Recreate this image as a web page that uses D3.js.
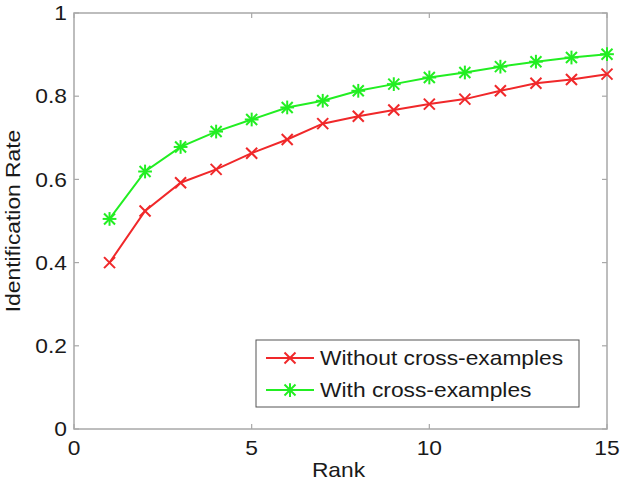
<!DOCTYPE html>
<html>
<head>
<meta charset="utf-8">
<script src="https://cdn.jsdelivr.net/npm/d3@7"></script>
<style>
  body { margin: 0; background: #fff; }
  svg text { font-family: "Liberation Sans", Arial, sans-serif; fill: #1a1a1a; }
</style>
</head>
<body>
<svg id="chart"></svg>
<script>
// identification rate vs rank

/*  DATA  */
const ranks = [1,2,3,4,5,6,7,8,9,10,11,12,13,14,15];
const withoutCross = [0.40,0.524,0.592,0.624,0.663,0.696,0.734,0.752,0.767,0.781,0.793,0.813,0.831,0.840,0.853];
const withCross    = [0.505,0.619,0.678,0.715,0.744,0.773,0.789,0.813,0.829,0.845,0.857,0.871,0.883,0.893,0.901];
const xTicks = [0,5,10,15];
const yTicks = [0,0.2,0.4,0.6,0.8,1];
const seriesNames = ['Without cross-examples','With cross-examples'];

/*  LAYOUT  */
const width = 627, height = 482;
const margin = {left: 74, right: 20, top: 13, bottom: 53};
const sx = 1.14; // the figure looks stretched sideways

const svg = d3.select('#chart')
    .attr('width', width)
    .attr('height', height);

const x = d3.scaleLinear().domain([0,15]).range([margin.left, width - margin.right]);
const y = d3.scaleLinear().domain([0,1]).range([height - margin.bottom, margin.top]);

const series = [
    {name: seriesNames[0], values: withoutCross, color: '#f0282a', marker: 'x'},
    {name: seriesNames[1], values: withCross, color: '#22ee22', marker: 'star'}
];

/*  AXES BOX  */
const boxColor = '#a8a8a8';
svg.append('rect')
    .attr('x', x(0)).attr('y', y(1))
    .attr('width', x(15) - x(0)).attr('height', y(0) - y(1))
    .attr('fill', 'none').attr('stroke', boxColor).attr('stroke-width', 1.5);

// inward ticks on every side
const tickLen = 5;
const tickG = svg.append('g').attr('stroke', boxColor).attr('stroke-width', 1.2);
xTicks.forEach(t => {
    tickG.append('line').attr('x1', x(t)).attr('x2', x(t)).attr('y1', y(0)).attr('y2', y(0) - tickLen);
    tickG.append('line').attr('x1', x(t)).attr('x2', x(t)).attr('y1', y(1)).attr('y2', y(1) + tickLen);
});
yTicks.forEach(t => {
    tickG.append('line').attr('x1', x(0)).attr('x2', x(0) + tickLen).attr('y1', y(t)).attr('y2', y(t));
    tickG.append('line').attr('x1', x(15)).attr('x2', x(15) - tickLen).attr('y1', y(t)).attr('y2', y(t));
});

// tick labels
const fontSize = 20;
xTicks.forEach(t => {
    svg.append('g').attr('transform', `translate(${x(t)},${y(0) + 26})`)
        .append('text')
        .attr('text-anchor', 'middle')
        .attr('font-size', fontSize)
        .attr('transform', `scale(${sx},1)`)
        .text(d3.format('~g')(t));
});
yTicks.forEach(t => {
    svg.append('g').attr('transform', `translate(${x(0) - 7},${y(t)})`)
        .append('text')
        .attr('text-anchor', 'end')
        .attr('dy', '0.36em')
        .attr('font-size', fontSize)
        .attr('transform', `scale(${sx},1)`)
        .text(d3.format('~g')(t));
});

// axis titles
svg.append('g').attr('transform', `translate(${(x(0) + x(15)) / 2 - 2},${height - 5})`)
    .append('text')
    .attr('text-anchor', 'middle')
    .attr('font-size', fontSize)
    .attr('transform', `scale(${sx},1)`)
    .text('Rank');

svg.append('g').attr('transform', `translate(20,${(y(0) + y(1)) / 2}) rotate(-90)`)
    .append('text')
    .attr('text-anchor', 'middle')
    .attr('font-size', fontSize)
    .attr('transform', `scale(${sx},1)`)
    .text('Identification Rate');

/*  MARKERS  */
function drawMarker(g, cx, cy, type, color) {
    const r = 5.5;
    let segs = [[-r,-r,r,r],[-r,r,r,-r]];
    if (type === 'star') {
        segs = [[-r,-r,r,r],[-r,r,r,-r],[-r*1.25,0,r*1.25,0],[0,-r*1.25,0,r*1.25]];
    }
    segs.forEach(s => {
        g.append('line')
            .attr('x1', cx + s[0]).attr('y1', cy + s[1])
            .attr('x2', cx + s[2]).attr('y2', cy + s[3])
            .attr('stroke', color).attr('stroke-width', 2);
    });
}

/*  LINES  */
const line = d3.line()
    .x((d, i) => x(ranks[i]))
    .y(d => y(d));

series.forEach(s => {
    svg.append('path')
        .datum(s.values)
        .attr('fill', 'none')
        .attr('stroke', s.color)
        .attr('stroke-width', 2)
        .attr('d', line);
    const mg = svg.append('g');
    s.values.forEach((v, i) => drawMarker(mg, x(ranks[i]), y(v), s.marker, s.color));
});

/*  LEGEND  */
const legend = svg.append('g');
legend.append('rect')
    .attr('x', 256).attr('y', 340)
    .attr('width', 323).attr('height', 67)
    .attr('fill', '#fff').attr('stroke', '#555').attr('stroke-width', 1);

series.forEach((s, i) => {
    const ly = 358 + i * 32;
    legend.append('line')
        .attr('x1', 266).attr('x2', 314).attr('y1', ly).attr('y2', ly)
        .attr('stroke', s.color).attr('stroke-width', 2);
    drawMarker(legend, 290, ly, s.marker, s.color);
    legend.append('g').attr('transform', `translate(320,${ly})`)
        .append('text')
        .attr('dy', '0.36em')
        .attr('font-size', fontSize)
        .attr('transform', `scale(${sx},1)`)
        .text(s.name);
});
</script>
</body>
</html>
